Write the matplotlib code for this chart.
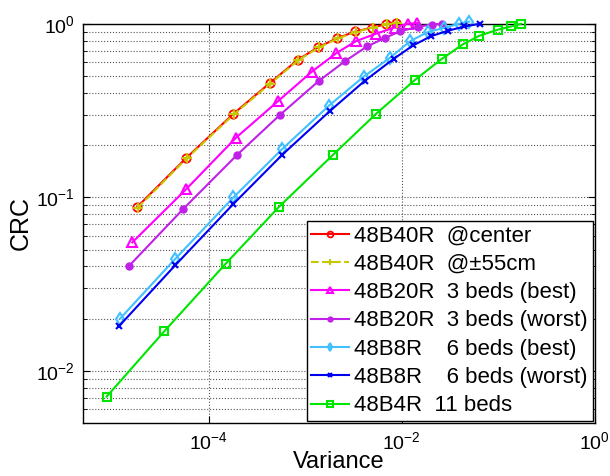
import numpy as np
import matplotlib
matplotlib.use('Agg')
import matplotlib.pyplot as plt
from matplotlib.ticker import LogLocator, NullFormatter, NullLocator

plt.rcParams['font.family'] = ['Liberation Sans', 'DejaVu Sans']
plt.rcParams['mathtext.fontset'] = 'custom'
plt.rcParams['mathtext.rm'] = 'Liberation Sans'
plt.rcParams['mathtext.it'] = 'Liberation Sans'

# Data (variance, CRC)
var_center = [1.82e-5, 5.9e-5, 1.81e-4, 4.3e-4, 8.4e-4, 1.37e-3, 2.16e-3, 3.32e-3, 4.97e-3, 6.93e-3, 8.65e-3]
crc_center = [0.088, 0.169, 0.303, 0.455, 0.62, 0.734, 0.827, 0.903, 0.952, 0.996, 1.015]

var_55cm = [1.84e-5, 5.95e-5, 1.83e-4, 4.35e-4, 8.5e-4, 1.39e-3, 2.2e-3, 3.38e-3, 5.05e-3, 7.1e-3, 9.0e-3]
crc_55cm = [0.087, 0.168, 0.301, 0.452, 0.617, 0.731, 0.824, 0.900, 0.950, 0.994, 1.012]

var_20_best = [1.62e-5, 5.82e-5, 1.93e-4, 5.2e-4, 1.18e-3, 2.11e-3, 3.37e-3, 5.4e-3, 8.45e-3, 1.15e-2, 1.45e-2]
crc_20_best = [0.055, 0.111, 0.221, 0.357, 0.531, 0.678, 0.795, 0.876, 0.952, 1.0, 1.01]

var_20_worst = [1.51e-5, 5.44e-5, 1.96e-4, 5.5e-4, 1.39e-3, 2.62e-3, 4.37e-3, 6.66e-3, 9.5e-3, 1.46e-2, 2.04e-2, 2.64e-2]
crc_20_worst = [0.0404, 0.0855, 0.175, 0.299, 0.469, 0.612, 0.740, 0.827, 0.903, 0.96, 0.99, 1.0]

var_8_best = [1.21e-5, 4.53e-5, 1.81e-4, 5.8e-4, 1.77e-3, 4.06e-3, 7.62e-3, 1.22e-2, 1.88e-2, 2.77e-2, 3.91e-2, 5.0e-2]
crc_8_best = [0.020, 0.0443, 0.100, 0.190, 0.338, 0.497, 0.639, 0.793, 0.899, 0.948, 1.0, 1.03]

var_8_worst = [1.18e-5, 4.53e-5, 1.81e-4, 5.8e-4, 1.80e-3, 4.14e-3, 8.26e-3, 1.31e-2, 2.02e-2, 3.0e-2, 4.46e-2, 6.44e-2]
crc_8_worst = [0.0181, 0.0407, 0.0917, 0.176, 0.314, 0.469, 0.628, 0.75, 0.849, 0.911, 0.965, 1.0]

var_4 = [8.8e-6, 3.47e-5, 1.50e-4, 5.4e-4, 1.95e-3, 5.47e-3, 1.38e-2, 2.63e-2, 4.28e-2, 6.37e-2, 9.84e-2, 0.136, 0.173]
crc_4 = [0.00711, 0.0169, 0.0414, 0.0885, 0.176, 0.304, 0.476, 0.630, 0.760, 0.853, 0.924, 0.965, 1.0]

labels = ['48B40R  @center', '48B40R  @\u00b155cm', '48B20R  3 beds (best)',
          '48B20R  3 beds (worst)', '48B8R    6 beds (best)',
          '48B8R    6 beds (worst)', '48B4R  11 beds']

fig = plt.figure(figsize=(6.1, 4.76), dpi=100)
ax = fig.add_axes([0.136, 0.111, 0.839, 0.839])

lw = 1.5
ax.plot(var_center, crc_center, '-', color='#ff0000', lw=lw, marker='o', ms=6,
        mfc='none', mew=1.3, label=labels[0], clip_on=False, zorder=3)
ax.plot(var_55cm, crc_55cm, '--', color='#c8c800', lw=lw, marker='+', ms=7,
        mew=1.5, label=labels[1], clip_on=False, zorder=4)
ax.plot(var_20_best, crc_20_best, '-', color='#ff00ff', lw=lw, marker='^', ms=7,
        mfc='none', mew=1.5, label=labels[2], clip_on=False, zorder=3)
ax.plot(var_20_worst, crc_20_worst, '-', color='#c020e8', lw=lw, marker='o', ms=5,
        mfc='#c020e8', mew=1, label=labels[3], clip_on=False, zorder=3)
ax.plot(var_8_best, crc_8_best, '-', color='#40c0ff', lw=lw, marker='d', ms=6,
        mfc='none', mew=1.5, label=labels[4], clip_on=False, zorder=3)
ax.plot(var_8_worst, crc_8_worst, '-', color='#0000f0', lw=lw, marker='x', ms=5,
        mew=1.5, label=labels[5], clip_on=False, zorder=3)
ax.plot(var_4, crc_4, '-', color='#00e600', lw=lw, marker='s', ms=5.5,
        mfc='none', mew=1.5, label=labels[6], clip_on=False, zorder=3)

ax.set_xscale('log')
ax.set_yscale('log')
ax.set_xlim(5e-6, 1)
ax.set_ylim(5e-3, 1)

ax.set_xticks([1e-4, 1e-2, 1e0])
ax.xaxis.set_minor_locator(NullLocator())
ax.set_yticks([1e-2, 1e-1, 1e0])
ax.yaxis.set_minor_locator(LogLocator(base=10, subs=np.arange(2, 10), numticks=20))
ax.yaxis.set_minor_formatter(NullFormatter())

ax.tick_params(which='both', direction='in', top=True, right=True, labelsize=14)
ax.tick_params(which='major', length=5, width=0.8)
ax.tick_params(which='minor', length=3, width=0.6)
ax.tick_params(axis='x', pad=6)
ax.tick_params(axis='y', pad=6)

ax.grid(True, which='major', linestyle=':', color='#555555', lw=0.8)
ax.grid(True, which='minor', axis='y', linestyle=':', color='#555555', lw=0.8)

for s in ax.spines.values():
    s.set_linewidth(1.0)

ax.set_xlabel('Variance', fontsize=17, labelpad=-2)
ax.set_ylabel('CRC', fontsize=18, labelpad=2)

leg = ax.legend(loc='lower right', fontsize=16, handlelength=1.7, handletextpad=0.25,
                borderpad=0.2, labelspacing=0.33, borderaxespad=0.1,
                fancybox=False, framealpha=1, edgecolor='black', markerscale=0.7)
leg.get_frame().set_linewidth(1.0)

fig.savefig('out.png', dpi=100)
